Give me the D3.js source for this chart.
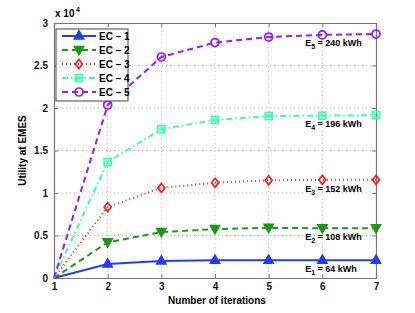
<!DOCTYPE html>
<html><head><meta charset="utf-8">
<script src="https://cdn.jsdelivr.net/npm/d3@7"></script>
<style>body{margin:0;background:#fff}svg{display:block;font-family:"Liberation Sans",Arial,sans-serif;font-weight:bold}</style>
</head><body><svg id="c" width="415" height="313"></svg>
<script>
const iterations = [1,2,3,4,5,6,7];
const ec1 = [0, 0.165, 0.20, 0.21, 0.21, 0.21, 0.21];
const ec2 = [0, 0.42, 0.54, 0.575, 0.59, 0.585, 0.585];
const ec3 = [0, 0.835, 1.06, 1.12, 1.15, 1.155, 1.155];
const ec4 = [0, 1.365, 1.75, 1.86, 1.905, 1.91, 1.915];
const ec5 = [0, 2.035, 2.60, 2.77, 2.835, 2.86, 2.87];
const seriesNames = ["EC \u2013 1","EC \u2013 2","EC \u2013 3","EC \u2013 4","EC \u2013 5"];
const xTicks = [1,2,3,4,5,6,7];
const yTicks = [0,0.5,1,1.5,2,2.5,3];
const annotations = [["1","64"],["2","108"],["3","152"],["4","196"],["5","240"]];
const annotAt = [0.21,0.585,1.155,1.915,2.87];

const svg = d3.select("#c");
const L=54,R=376,T=23,B=278;
const x = d3.scaleLinear().domain([1,7]).range([L,R]);
const y = d3.scaleLinear().domain([0,3]).range([B,T]);

const g = svg.append("g");
g.selectAll(".gx").data(xTicks.slice(1,-1)).enter().append("line")
 .attr("x1",d=>x(d)).attr("x2",d=>x(d)).attr("y1",T).attr("y2",B)
 .attr("stroke","#aaa").attr("stroke-width",0.8).attr("stroke-dasharray","1,3");
g.selectAll(".gy").data(yTicks.slice(1,-1)).enter().append("line")
 .attr("y1",d=>y(d)).attr("y2",d=>y(d)).attr("x1",L).attr("x2",R)
 .attr("stroke","#aaa").attr("stroke-width",0.8).attr("stroke-dasharray","1,3");

const xa = svg.append("g").attr("transform",`translate(0,${B})`)
 .call(d3.axisBottom(x).tickValues(xTicks).tickSize(-4).tickPadding(5).tickFormat(d3.format("d")));
const xt = svg.append("g").attr("transform",`translate(0,${T})`)
 .call(d3.axisTop(x).tickValues(xTicks).tickSize(-4).tickFormat(""));
const ya = svg.append("g").attr("transform",`translate(${L},0)`)
 .call(d3.axisLeft(y).tickValues(yTicks).tickSize(-4).tickPadding(6).tickFormat(d=>d));
const yr = svg.append("g").attr("transform",`translate(${R},0)`)
 .call(d3.axisRight(y).tickValues(yTicks).tickSize(-4).tickFormat(""));
[xa,xt,ya,yr].forEach(a=>{a.selectAll("path").attr("stroke","#777").attr("stroke-width",1.2);
 a.selectAll("line").attr("stroke","#777");
 a.selectAll("text").attr("fill","#111").style("font-size","10px").style("font-weight","bold").style("font-family","Liberation Sans, Arial, sans-serif");});

svg.append("text").attr("x",55).attr("y",17).style("font-size","10px").text("x 10");
svg.append("text").attr("x",76).attr("y",12).style("font-size","7px").text("4");

svg.append("text").attr("x",(L+R)/2+2).attr("y",304).attr("text-anchor","middle").style("font-size","10px").text("Number of iterations");
svg.append("text").attr("transform",`translate(26,${(T+B)/2}) rotate(-90)`).attr("text-anchor","middle").style("font-size","10px").text("Utility at EMES");

const styles = [
 {data:ec1,color:"#1f3cff",dash:null,marker:"triUp",fill:true},
 {data:ec2,color:"#1a9a1a",dash:"6,4",marker:"triDown",fill:true},
 {data:ec3,color:"#ff1a1a",dash:"1,3",marker:"diamond",fill:false},
 {data:ec4,color:"#3dffae",dash:"6,3,1.5,3",marker:"square",fill:false},
 {data:ec5,color:"#9a19ff",dash:"6,4",marker:"circle",fill:false}
];
function marker(sel,s,cx,cy){
 const gg = sel.append("g").attr("transform",`translate(${cx},${cy})`);
 let p;
 if(s.marker==="triUp") p=gg.append("path").attr("d","M0,-5L4.5,3L-4.5,3Z");
 else if(s.marker==="triDown") p=gg.append("path").attr("d","M0,4.5L4.5,-3.5L-4.5,-3.5Z");
 else if(s.marker==="diamond") p=gg.append("path").attr("d","M0,-4.5L3.5,0L0,4.5L-3.5,0Z");
 else if(s.marker==="square") p=gg.append("rect").attr("x",-3.5).attr("y",-3.5).attr("width",7).attr("height",7);
 else p=gg.append("circle").attr("r",4);
 p.attr("fill",s.fill?s.color:"none").attr("stroke",s.color).attr("stroke-width",1.7);
 if(s.marker==="square") gg.append("rect").attr("x",-1.5).attr("y",-1.5).attr("width",3).attr("height",3).attr("fill","none").attr("stroke",s.color).attr("stroke-width",0.8);
}
const line = d3.line().x((d,i)=>x(iterations[i])).y(d=>y(d));
styles.forEach(s=>{
 svg.append("path").attr("d",line(s.data)).attr("fill","none").attr("stroke",s.color)
  .attr("stroke-width",2).attr("stroke-dasharray",s.dash);
 s.data.forEach((v,i)=>{ if(i>0) marker(svg,s,x(iterations[i]),y(v)); });
});

annotations.forEach((a,i)=>{
 const t = svg.append("text").attr("x",x(5.68)).attr("y",y(annotAt[i])+12).style("font-size","9px");
 t.append("tspan").text("E");
 t.append("tspan").attr("dy",3).style("font-size","7px").text(a[0]);
 t.append("tspan").attr("dy",-3).text(" = "+a[1]+" kWh");
});

const lg = svg.append("g");
lg.append("rect").attr("x",56).attr("y",29).attr("width",72).attr("height",72).attr("fill","#fff").attr("stroke","#444").attr("stroke-width",1);
styles.forEach((s,i)=>{
 const yy = 36+i*14;
 lg.append("line").attr("x1",62).attr("x2",96).attr("y1",yy).attr("y2",yy).attr("stroke",s.color).attr("stroke-width",2).attr("stroke-dasharray",s.dash);
 marker(lg,s,79,yy);
 lg.append("text").attr("x",99).attr("y",yy+3.5).style("font-size","10px").text(seriesNames[i]);
});
</script></body></html>
